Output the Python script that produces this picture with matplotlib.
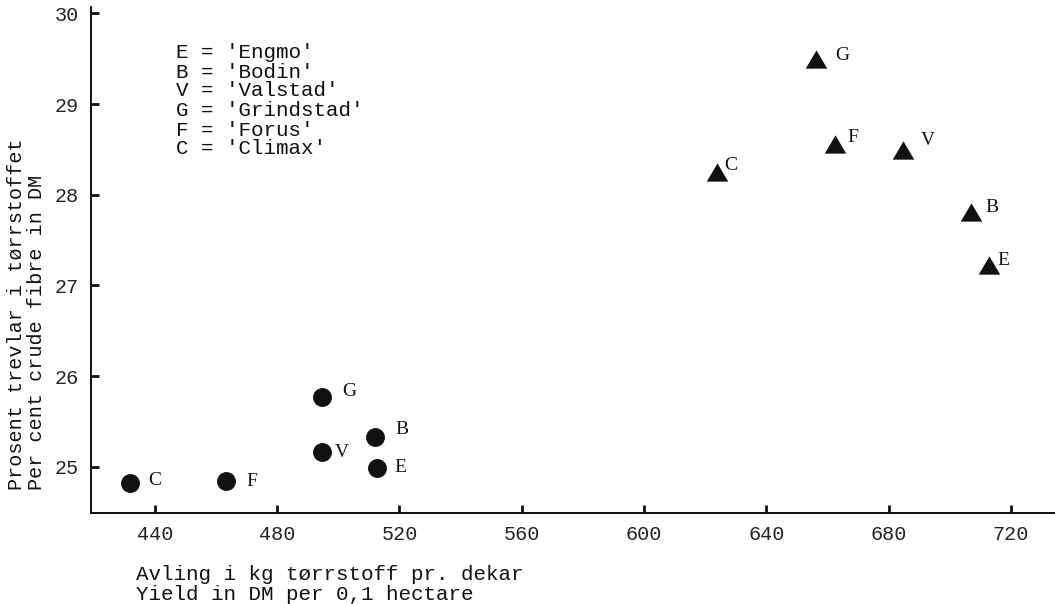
import matplotlib
matplotlib.use("Agg")
import matplotlib.pyplot as plt
from matplotlib.path import Path

# ---- data ----
circle_labels = ["C", "F", "G", "V", "B", "E"]
circle_x = [431.8, 463.1, 494.8, 494.8, 512.0, 512.5]
circle_y = [24.82, 24.84, 25.77, 25.16, 25.33, 24.99]

tri_labels = ["G", "F", "V", "C", "B", "E"]
tri_x = [656.2, 662.4, 684.8, 623.7, 707.0, 712.9]
tri_y = [29.50, 28.56, 28.49, 28.25, 27.81, 27.22]

x_ticks = [440, 480, 520, 560, 600, 640, 680, 720]
y_ticks = [25, 26, 27, 28, 29, 30]

legend_lines = ["E = 'Engmo'", "B = 'Bodin'", "V = 'Valstad'",
                "G = 'Grindstad'", "F = 'Forus'", "C = 'Climax'"]

xlabel_lines = ["Avling i kg tørrstoff pr. dekar", "Yield in DM per 0,1 hectare"]
ylabel_lines = ["Prosent trevlar i tørrstoffet", "Per cent crude fibre in DM"]

# label offsets (pixels)
circle_offsets = [(18, 3), (21, 0), (20, 5), (12, 0), (20, 7), (18, 0)]
tri_offsets = [(19, 3), (13, 6), (17, 10), (8, 7), (14, 4), (8, 5)]

W, H = 1055, 604
fig = plt.figure(figsize=(W / 100, H / 100), dpi=100)
ax = fig.add_axes([91 / W, 1 - 513 / H, 1 - 91 / W, (513 - 7) / H])

mono = "Liberation Mono"
serif = "Liberation Serif"
ink = "#111111"

ax.plot(circle_x, circle_y, linestyle="none", marker="o", markersize=13.6,
        color=ink, markeredgewidth=0)

tri = Path([(0, 0.85), (-1, -0.85), (1, -0.85), (0, 0.85)],
           [Path.MOVETO, Path.LINETO, Path.LINETO, Path.CLOSEPOLY])
ax.plot(tri_x, tri_y, linestyle="none", marker=tri, markersize=15.5,
        color=ink, markeredgewidth=0)

for lab, x, y, off in zip(circle_labels, circle_x, circle_y, circle_offsets):
    ax.annotate(lab, (x, y), xytext=off, textcoords="offset pixels",
                ha="left", va="center", fontsize=14, family=serif, color=ink)
for lab, x, y, off in zip(tri_labels, tri_x, tri_y, tri_offsets):
    ax.annotate(lab, (x, y), xytext=off, textcoords="offset pixels",
                ha="left", va="center", fontsize=14, family=serif, color=ink)

ax.set_xlim(419.1, 734.4)
ax.set_ylim(24.49, 30.07)
ax.set_xticks(x_ticks)
ax.set_yticks(y_ticks)
ax.set_xticklabels([str(t) for t in x_ticks], family=mono, fontsize=14.5, color="#222222")
ax.set_yticklabels([str(t) for t in y_ticks], family=mono, fontsize=14.5, color="#222222")
ax.tick_params(direction="in", length=6, width=2, color=ink, pad=9)
for s in ["top", "right"]:
    ax.spines[s].set_visible(False)
for s in ["left", "bottom"]:
    ax.spines[s].set_linewidth(1.4)
    ax.spines[s].set_color(ink)

# legend block
legend_y = [53, 72, 91, 111, 130, 149]
for line, yp in zip(legend_lines, legend_y):
    fig.text(176 / W, 1 - yp / H, line, family=mono, fontsize=15,
             ha="left", va="center", color=ink)

# axis labels
fig.text(136 / W, 1 - 575 / H, xlabel_lines[0], family=mono, fontsize=15,
         ha="left", va="center", color=ink)
fig.text(136 / W, 1 - 594 / H, xlabel_lines[1], family=mono, fontsize=15,
         ha="left", va="center", color=ink)
fig.text(17 / W, 1 - 490 / H, ylabel_lines[0], family=mono, fontsize=14.5,
         ha="left", va="center", rotation=90, rotation_mode="anchor", color=ink)
fig.text(37 / W, 1 - 490 / H, ylabel_lines[1], family=mono, fontsize=14.5,
         ha="left", va="center", rotation=90, rotation_mode="anchor", color=ink)

fig.savefig("out.png", dpi=100, facecolor="white")
